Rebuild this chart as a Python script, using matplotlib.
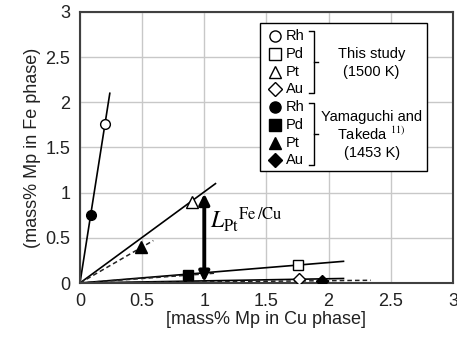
import matplotlib
matplotlib.use('Agg')
import matplotlib.pyplot as plt

plt.rcParams['font.family'] = ['Liberation Sans', 'DejaVu Sans']
plt.rcParams['mathtext.fontset'] = 'stix'

# this study (1500 K): marker point and end of fitted line
this_x = [0.20, 1.75, 0.90, 1.76]
this_y = [1.76, 0.20, 0.90, 0.04]
this_line_end = [(0.24, 2.10), (2.12, 0.24), (1.09, 1.10), (2.12, 0.05)]

# Yamaguchi and Takeda (1453 K)
yt_x = [0.09, 0.87, 0.49, 1.95]
yt_y = [0.75, 0.09, 0.40, 0.02]
yt_line_end = [None, (1.10, 0.11), (0.59, 0.47), (2.34, 0.03)]

elements = ['Rh', 'Pd', 'Pt', 'Au']
markers = ['o', 's', '^', 'D']
msizes = [7, 7, 8, 6]

fig = plt.figure(figsize=(4.57, 3.42), dpi=100)
ax = fig.add_axes([0.175, 0.1725, 0.816, 0.7925])

# fitted lines
for (xe, ye) in this_line_end:
    ax.plot([0, xe], [0, ye], color='black', lw=1.2, zorder=2)
for le in yt_line_end:
    if le is not None:
        ax.plot([0, le[0]], [0, le[1]], color='#222222', lw=1.1, ls=(0, (3, 2)), zorder=2)
# Rh (Yamaguchi) lies on the solid Rh line

for i in range(4):
    ax.plot(this_x[i], this_y[i], marker=markers[i], ms=msizes[i], mfc='white',
            mec='black', mew=1.0, ls='none', zorder=4)
    ax.plot(yt_x[i], yt_y[i], marker=markers[i], ms=msizes[i], mfc='black',
            mec='black', ls='none', zorder=4)

# partition coefficient arrow
ax.annotate('', xy=(1.0, 0.99), xytext=(1.0, 0.01),
            arrowprops=dict(arrowstyle='<|-|>', color='black', lw=2.8,
                            mutation_scale=15, shrinkA=0, shrinkB=0), zorder=5)
ax.text(1.05, 0.70, r'${L_{\mathrm{Pt}}}^{\mathrm{Fe\,/Cu}}$', fontsize=17,
        va='center', ha='left')

ax.set_xlim(0, 3)
ax.set_ylim(0, 3)
ax.set_xticks([0, 0.5, 1, 1.5, 2, 2.5, 3])
ax.set_yticks([0, 0.5, 1, 1.5, 2, 2.5, 3])
ax.set_xticklabels(['0', '0.5', '1', '1.5', '2', '2.5', '3'])
ax.set_yticklabels(['0', '0.5', '1', '1.5', '2', '2.5', '3'])
ax.tick_params(length=0, labelsize=13, pad=7, colors='#222222')
ax.grid(True, color='#c8c8c8', lw=1.0)
ax.set_axisbelow(True)
for s in ax.spines.values():
    s.set_color('#404040')
    s.set_linewidth(1.5)
ax.set_xlabel('[mass% Mp in Cu phase]', fontsize=13, labelpad=1, color='#222222')
ax.set_ylabel('(mass% Mp in Fe phase)', fontsize=13, labelpad=3, color='#222222')

# legend drawn by hand
tr = ax.transAxes
box = plt.Rectangle((0.483, 0.413), 0.448, 0.546, transform=tr, facecolor='white',
                    edgecolor='black', lw=1.0, zorder=6)
ax.add_patch(box)
row_y = [0.911, 0.845, 0.779, 0.716, 0.649, 0.583, 0.517, 0.454]
for k in range(8):
    i = k % 4
    fc = 'white' if k < 4 else 'black'
    ax.plot(0.523, row_y[k], marker=markers[i], ms=msizes[i] + 1, mfc=fc, mec='black',
            mew=1.0, ls='none', transform=tr, zorder=7, clip_on=False)
    ax.text(0.553, row_y[k], elements[i], fontsize=10.5, va='center', ha='left',
            transform=tr, zorder=7)

def bracket(y0, y1):
    ym = (y0 + y1) / 2
    ax.plot([0.614, 0.627, 0.627, 0.614], [y0, y0, y1, y1], color='black', lw=1.0,
            transform=tr, zorder=7)
    ax.plot([0.627, 0.638], [ym, ym], color='black', lw=1.0, transform=tr, zorder=7)

bracket(0.930, 0.700)
bracket(0.665, 0.435)
fs = 10.5
ax.text(0.782, 0.845, 'This study', fontsize=fs, ha='center', va='center', transform=tr, zorder=7)
ax.text(0.782, 0.779, '(1500 K)', fontsize=fs, ha='center', va='center', transform=tr, zorder=7)
ax.text(0.782, 0.614, 'Yamaguchi and', fontsize=fs, ha='center', va='center', transform=tr, zorder=7)
ax.text(0.782, 0.548, 'Takeda $^{11)}$', fontsize=fs, ha='center', va='center', transform=tr, zorder=7)
ax.text(0.782, 0.478, '(1453 K)', fontsize=fs, ha='center', va='center', transform=tr, zorder=7)

fig.savefig('out.png', dpi=100)
